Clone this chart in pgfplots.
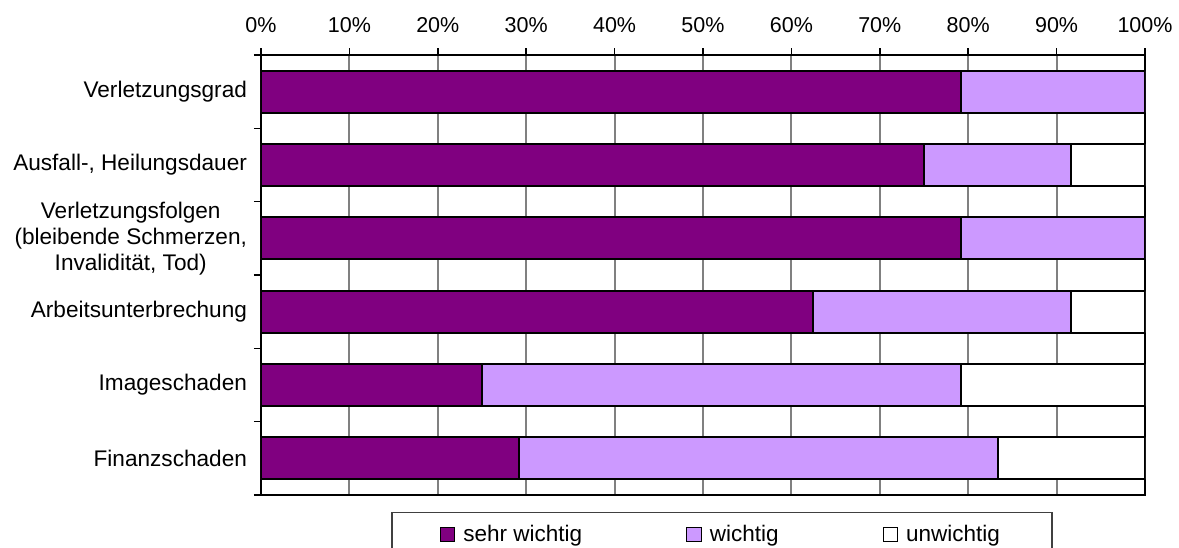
\documentclass[border=0pt]{standalone}
\usepackage{fontspec}
\setmainfont{Liberation Sans}
\usepackage{pgfplots}
\usepackage{pgfplotstable}
\pgfplotsset{compat=1.18}

\definecolor{sehrw}{HTML}{800080}
\definecolor{wicht}{HTML}{CC99FF}

% shares of answers (in %), one row per criterion
\pgfplotstableread{
idx sehr   wichtig unwichtig
0   79.17  20.83   0
1   75.00  16.67   8.33
2   79.17  20.83   0
3   62.50  29.17   8.33
4   25.00  54.17   20.83
5   29.17  54.17   16.67
}\datatable

\pgfplotsset{
  legsq/.style={legend image code/.code={
    \draw[##1, draw=black, line width=0.6pt] (0pt,-3.6pt) rectangle (7.2pt,3.6pt);
    \path (9pt,0pt);}},
}

\begin{document}
\begin{tikzpicture}
\begin{axis}[
  name=ax,
  scale only axis,
  width=442pt, height=220pt,
  xbar stacked,
  bar width=0.573,
  xmin=0, xmax=100,
  ymin=-0.5, ymax=5.5,
  y dir=reverse,
  axis line style={line width=1pt, black},
  tick align=outside,
  major tick length=3.5pt,
  minor tick length=3.5pt,
  tick style={line width=0.8pt, black},
  /pgf/number format/assume math mode=true,
  xtick={0,10,...,100},
  xticklabel={\pgfmathprintnumber{\tick}\%},
  xtick pos=right,
  xticklabel pos=right,
  xticklabel style={font=\fontsize{10.75}{12}\selectfont, yshift=4pt},
  xmajorgrids,
  major grid style={line width=1pt, black!50},
  ytick={0,...,5},
  yticklabels={
    Verletzungsgrad,
    {Ausfall-, Heilungsdauer},
    {Verletzungsfolgen\\(bleibende Schmerzen,\\Invalidität, Tod)},
    Arbeitsunterbrechung,
    Imageschaden,
    Finanzschaden},
  every major y tick/.style={draw=none},
  minor ytick={-0.5,0.5,...,5.5},
  ytick pos=left,
  yticklabel style={align=center, font=\fontsize{11.3}{13}\selectfont},
  legend columns=3,
  legend style={
    at={(0.1471,0)}, anchor=north west, yshift=-8.5pt,
    draw=black!75, line width=0.75pt,
    font=\fontsize{11.25}{13}\selectfont,
    inner xsep=24pt, inner ysep=4pt,
    /tikz/every even column/.append style={column sep=50pt},
  },
]
\addplot[fill=sehrw, draw=black, line width=1pt, legsq]
  table[x=sehr, y=idx] {\datatable};
\addlegendentry{sehr wichtig}
\addplot[fill=wicht, draw=black, line width=1pt, legsq]
  table[x=wichtig, y=idx] {\datatable};
\addlegendentry{wichtig}
\addplot[fill=white, draw=black, line width=1pt, legsq]
  table[x=unwichtig, y=idx] {\datatable};
\addlegendentry{unwichtig}
\end{axis}
\pgfresetboundingbox
\path ([shift={(-130.5pt,-26.5pt)}]ax.south west)
  rectangle ([shift={(17pt,27.5pt)}]ax.north east);
\end{tikzpicture}
\end{document}
